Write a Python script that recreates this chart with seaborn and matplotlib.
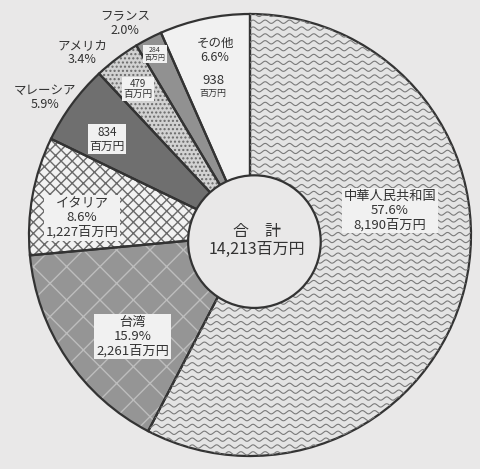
import numpy as np
import seaborn as sns
import matplotlib.pyplot as plt
from matplotlib.patches import Circle

# データ（輸入額、百万円）
countries = ["中華人民共和国", "台湾", "イタリア", "マレーシア", "アメリカ", "フランス", "その他"]
values = [8190, 2261, 1227, 834, 479, 284, 938]
shares = ["57.6%", "15.9%", "8.6%", "5.9%", "3.4%", "2.0%", "6.6%"]
total_label = "14,213百万円"

sns.set_theme(style="white")
plt.rcParams["font.family"] = ["Noto Sans CJK JP", "DejaVu Sans"]
plt.rcParams["hatch.linewidth"] = 1.0

bg = "#e9e8e8"
ink = "#333333"
faces = ["#e4e4e4", "#959595", "#f2f2f2", "#6f6f6f", "#d2d2d2", "#919191", "#f1f1f1"]
hatches = [None, "x", "xxx", None, "....", None, None]
hatch_cols = ["#e4e4e4", "#bdbdbd", "#6a6a6a", "#6f6f6f", "#6a6a6a", "#919191", "#f1f1f1"]

fig = plt.figure(figsize=(4.8, 4.69), dpi=100, facecolor=bg)
ax = fig.add_axes([0, 0, 1, 1])
ax.set_facecolor(bg)

# 塗り（ハッチ付き）
wedges, _ = ax.pie(values, startangle=90, counterclock=False, radius=1,
                   colors=faces, wedgeprops=dict(linewidth=0))
for w, h, hc in zip(wedges, hatches, hatch_cols):
    w.set_edgecolor(hc)
    if h:
        w.set_hatch(h)

# 中華人民共和国の波線模様
xs = np.linspace(-1.05, 1.05, 600)
for y0 in np.arange(-1.05, 1.06, 0.031):
    ln, = ax.plot(xs, y0 + 0.0075 * np.sin(2 * np.pi * xs / 0.055),
                  color="#7a7a7a", lw=0.8)
    ln.set_clip_path(wedges[0])

# 輪郭線
ax.pie(values, startangle=90, counterclock=False, radius=1,
       wedgeprops=dict(facecolor="none", edgecolor=ink, linewidth=1.6))

# 中央の円
ax.add_patch(Circle((0.02, -0.03), 0.30, facecolor=bg, edgecolor=ink, lw=1.6, zorder=5))
ax.text(0.032, -0.025, "合　計\n" + total_label, ha="center", va="center",
        fontsize=11.5, color=ink, linespacing=1.1, zorder=6)

box = dict(boxstyle="square,pad=0.15", facecolor="#f1f1f1", edgecolor="none")

def label(x, y, s, fs=8.5, b=True):
    ax.text(x, y, s, ha="center", va="center", fontsize=fs, color=ink,
            linespacing=1.1, bbox=box if b else None, zorder=6)

# 枠内ラベル
label(0.633, 0.11, f"{countries[0]}\n{shares[0]}\n{values[0]:,}百万円", 9.5)
label(-0.53, -0.46, f"{countries[1]}\n{shares[1]}\n{values[1]:,}百万円", 9.5)
label(-0.76, 0.077, f"{countries[2]}\n{shares[2]}\n{values[2]:,}百万円", 9.5)
label(-0.647, 0.434, f"{values[3]}\n百万円", 8.5)
label(-0.507, 0.661, f"{values[4]}\n百万円", 7)
label(-0.43, 0.819, f"{values[5]}\n百万円", 5)
label(-0.158, 0.837, f"{countries[6]}\n{shares[6]}", 9, b=False)
ax.text(-0.167, 0.70, f"{values[6]}", ha="center", va="center", fontsize=9.5, color=ink, zorder=6)
ax.text(-0.167, 0.64, "百万円", ha="center", va="center", fontsize=6.5, color=ink, zorder=6)

# 枠外ラベル
label(-0.566, 0.955, f"{countries[5]}\n{shares[5]}", 9, b=False)
label(-0.760, 0.824, f"{countries[4]}\n{shares[4]}", 9, b=False)
label(-0.928, 0.624, f"{countries[3]}\n{shares[3]}", 9, b=False)

ax.set_xlim(-250 / 221, 230 / 221)
ax.set_ylim(-234 / 221, 235 / 221)
ax.axis("off")

fig.savefig("out.png", dpi=100, facecolor=bg)
